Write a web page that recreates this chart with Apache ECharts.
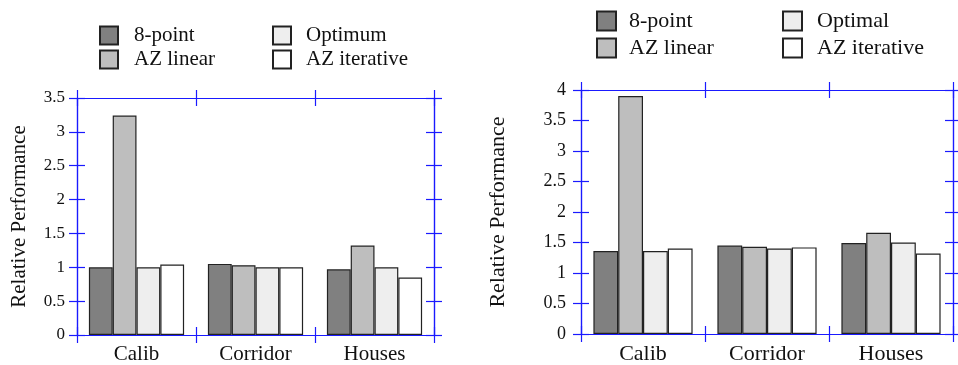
<!DOCTYPE html>
<html>
<head>
<meta charset="utf-8">
<title>Relative Performance</title>
<script src="https://cdn.jsdelivr.net/npm/echarts@6/dist/echarts.min.js"></script>
<style>
  html, body { margin: 0; padding: 0; background: #ffffff; }
  #chart { width: 958px; height: 365px; }
</style>
</head>
<body>
<div id="chart"></div>
<script>
// Shared categories
const categories = ['Calib', 'Corridor', 'Houses'];

// Left panel series
const namesA = ['8-point', 'AZ linear', 'Optimum', 'AZ iterative'];
const eightPointA = [1.00, 1.05, 0.97];
const azLinearA = [3.24, 1.03, 1.32];
const optimumA = [1.00, 1.00, 1.00];
const azIterativeA = [1.04, 1.00, 0.85];
const maxA = 3.5;

// Right panel series
const namesB = ['8-point', 'AZ linear', 'Optimal', 'AZ iterative'];
const eightPointB = [1.36, 1.45, 1.49];
const azLinearB = [3.90, 1.43, 1.66];
const optimalB = [1.36, 1.40, 1.50];
const azIterativeB = [1.40, 1.42, 1.32];
const maxB = 4;

const tickStep = 0.5;
const yName = 'Relative Performance';

const fills = ['#808080', '#bebebe', '#eeeeee', '#ffffff'];
const FRAME = '#1a1aff';
const SERIF = '"Liberation Serif", "DejaVu Serif", serif';

const xAxes = [];
const yAxes = [];
const series = [];

function frameLine() {
  return { show: true, onZero: false, lineStyle: { color: FRAME, width: 1.2 } };
}
function frameTick(inside) {
  return { show: true, inside: inside, length: 8, alignWithLabel: false,
           lineStyle: { color: FRAME, width: 1.2 } };
}

// One panel: a boxed frame whose four sides carry ticks crossing the line
// (each side is a pair of axes: one with outward ticks, one with inward ticks).
function addPanel(gridIndex, names, values, max, cfg) {
  const xBase = xAxes.length;
  const yBase = yAxes.length;
  ['bottom', 'top'].forEach(function (pos) {
    [false, true].forEach(function (inside) {
      xAxes.push({
        gridIndex: gridIndex, type: 'category', data: categories, position: pos,
        boundaryGap: true, z: 5, offset: 0,
        axisLine: frameLine(),
        axisTick: frameTick(inside),
        axisLabel: { show: pos === 'bottom' && !inside, color: '#111', fontFamily: SERIF,
                     fontSize: cfg.catFont, margin: cfg.catMargin },
        splitLine: { show: false }
      });
    });
  });
  ['left', 'right'].forEach(function (pos) {
    [false, true].forEach(function (inside) {
      const main = pos === 'left' && !inside;
      yAxes.push({
        gridIndex: gridIndex, type: 'value', position: pos, min: 0, max: max, interval: tickStep,
        z: 5, offset: 0,
        name: main ? yName : '',
        nameLocation: 'middle', nameGap: cfg.nameGap,
        nameTextStyle: { color: '#111', fontFamily: SERIF, fontSize: cfg.nameFont },
        axisLine: frameLine(),
        axisTick: frameTick(inside),
        axisLabel: { show: main, color: '#111', fontFamily: SERIF, fontSize: cfg.tickFont,
                     margin: cfg.tickMargin },
        splitLine: { show: false }
      });
    });
  });
  names.forEach(function (name, i) {
    series.push({
      name: name, type: 'bar', xAxisIndex: xBase, yAxisIndex: yBase,
      data: values[i],
      barCategoryGap: '20%', barGap: '0%',
      itemStyle: { color: fills[i], borderColor: '#222', borderWidth: 1.2 }
    });
  });
}

addPanel(0, namesA, [eightPointA, azLinearA, optimumA, azIterativeA], maxA,
  { catFont: 21, catMargin: 9, tickFont: 17, tickMargin: 12, nameFont: 21, nameGap: 47 });
addPanel(1, namesB, [eightPointB, azLinearB, optimalB, azIterativeB], maxB,
  { catFont: 22, catMargin: 9, tickFont: 18, tickMargin: 15, nameFont: 22, nameGap: 72 });

function legendColumn(data, left, top, size, gap, font, textPad) {
  return {
    data: data, orient: 'vertical', left: left, top: top, padding: 0,
    itemWidth: size, itemHeight: size, itemGap: gap, icon: 'rect',
    selectedMode: false,
    textStyle: { color: '#111', fontFamily: SERIF, fontSize: font, lineHeight: size,
                 padding: [0, 0, 0, textPad] }
  };
}

const option = {
  animation: false,
  backgroundColor: '#ffffff',
  grid: [
    { left: 77, top: 98, width: 357, height: 238, containLabel: false },
    { left: 581, top: 90, width: 372, height: 245, containLabel: false }
  ],
  legend: [
    legendColumn(['8-point', 'AZ linear'], 99, 25, 18, 3, 21, 11),
    legendColumn(['Optimum', 'AZ iterative'], 272, 25, 18, 3, 21, 10),
    legendColumn(['8-point', 'AZ linear'], 596, 10, 19, 5, 22, 8),
    legendColumn(['Optimal', 'AZ iterative'], 782, 10, 19, 5, 22, 10)
  ],
  xAxis: xAxes,
  yAxis: yAxes,
  series: series
};

const chart = echarts.init(document.getElementById('chart'), null, { renderer: 'canvas' });
chart.setOption(option);
</script>
</body>
</html>
